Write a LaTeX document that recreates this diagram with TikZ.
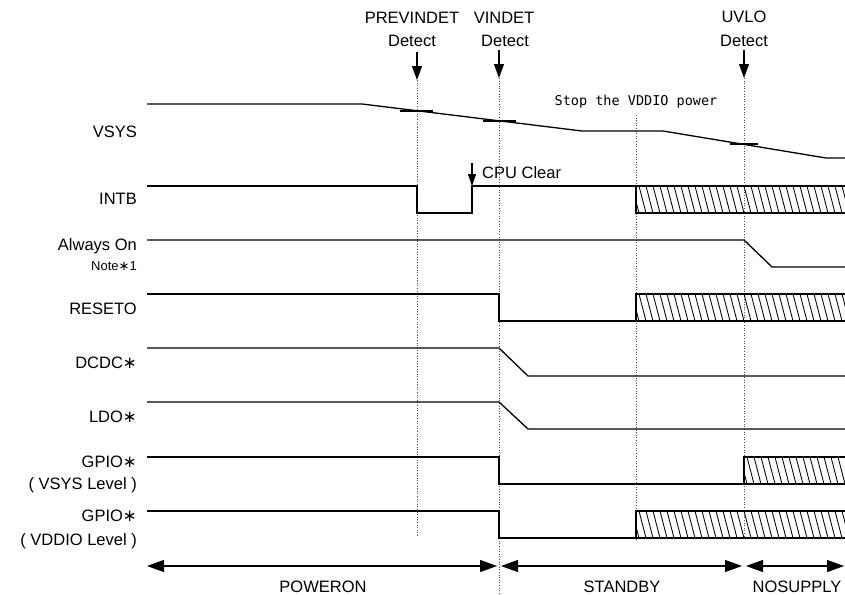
\documentclass[tikz,border=0pt]{standalone}
\usepackage{fontspec}
\setmainfont{Liberation Sans}
\newfontfamily\monofont{DejaVu Sans Mono}
\newfontfamily\symfont{DejaVu Sans}
\usetikzlibrary{arrows.meta}
\newcommand{\sigast}{{\symfont ∗}}
\begin{document}
\begin{tikzpicture}[x=1pt,y=-1pt,
  sig/.style={line width=1.3pt, line join=miter},
  guide/.style={dotted, line width=0.6pt, black!70},
  hatchline/.style={line width=0.85pt},
  lbl/.style={font=\fontsize{16.5}{18}\selectfont, anchor=base east, inner sep=0pt},
  small/.style={font=\fontsize{13}{14}\selectfont, anchor=base east, inner sep=0pt},
  toplbl/.style={font=\fontsize{16.5}{18}\selectfont, anchor=base, inner sep=0pt},
  phase/.style={font=\fontsize{16.5}{18}\selectfont, anchor=base, inner sep=0pt},
  monolbl/.style={font=\monofont\fontsize{13.5}{15}\selectfont, anchor=base, inner sep=0pt},
  detarrow/.style={line width=1.1pt, -{Triangle[length=14pt,width=10pt]}},
  cpuarrow/.style={line width=1.1pt, -{Triangle[length=12pt,width=8pt]}},
  phasearrow/.style={line width=1.1pt, {Triangle[length=17pt,width=12pt]}-{Triangle[length=17pt,width=12pt]}}
]
\useasboundingbox (0,0) rectangle (845,594);

% ---- labels on the left
\node[lbl] (lvsys) at (137,137) {VSYS};
\node[lbl] (lintb) at (137,204) {INTB};
\node[lbl] (laon) at (137,250) {Always On};
\node[small] (lnote) at (137,270) {Note\sigast1};
\node[lbl] (lreset) at (137,314) {RESETO};
\node[lbl] (ldcdc) at (137,368) {DCDC\sigast};
\node[lbl] (lldo) at (137,422) {LDO\sigast};
\node[lbl] (lg1) at (137,467) {GPIO\sigast};
\node[lbl] (lg1b) at (137,489) {( VSYS Level )};
\node[lbl] (lg2) at (137,521) {GPIO\sigast};
\node[lbl] (lg2b) at (137,545) {( VDDIO Level )};

% ---- event labels on top
\node[toplbl] (tprev) at (412,23.5) {PREVINDET};
\node[toplbl] (tprevd) at (412,47) {Detect};
\node[toplbl] (tvin) at (504,23.5) {VINDET};
\node[toplbl] (tvind) at (505,47) {Detect};
\node[toplbl] (tuvlo) at (744,23) {UVLO};
\node[toplbl] (tuvlod) at (744,47) {Detect};
\node[monolbl] (tstop) at (636,105) {Stop the VDDIO power};
\node[font=\fontsize{16.5}{18}\selectfont, anchor=base west, inner sep=0pt] (tcpu) at (482,178) {CPU Clear};

% ---- named coordinates for guides and arrows
\coordinate (p1) at (417,52);  \coordinate (p1e) at (417,80);
\coordinate (v1) at (499,50);  \coordinate (v1e) at (499,78);
\coordinate (u1) at (744,50);  \coordinate (u1e) at (744,78);
\coordinate (c1) at (472,163); \coordinate (c1e) at (472,186);
\coordinate (s1) at (636,115);

% ---- dotted guides
\draw[guide] (p1e) -- (417,537);
\draw[guide] (v1e) -- (499,594);
\draw[guide] (s1) -- (636,540);
\draw[guide] (u1e) -- (744,540);

% ---- event arrows
\draw[detarrow] (p1) -- (p1e);
\draw[detarrow] (v1) -- (v1e);
\draw[detarrow] (u1) -- (u1e);
\draw[cpuarrow] (c1) -- (c1e);

% ---- hatched regions
\foreach \xa/\xb/\ya/\yb in {636/845/186/213, 636/845/294/321, 744/845/457/484, 636/845/511/538}{
  \begin{scope}
    \clip (\xa,\ya) rectangle (\xb,\yb);
    \foreach \k in {0,...,32}{
      \draw[hatchline] (\xa-4+\k*7,\ya) -- (\xa+3+\k*7,\yb);
    }
  \end{scope}
  \draw[sig] (\xb+2,\ya) -- (\xa,\ya) -- (\xa,\yb) -- (\xb+2,\yb);
}

% ---- VSYS
\draw[sig] (147,104) -- (362,104) -- (582,131) -- (663,131) -- (826,158) -- (847,158);
\draw[sig] (400,111) -- (433,111);
\draw[sig] (483,121) -- (516,121);
\draw[sig] (730,144) -- (758,144);

% ---- INTB
\draw[sig] (147,186) -- (417,186) -- (417,213) -- (472,213) -- (472,186) -- (636,186);
% ---- Always On
\draw[sig] (147,240) -- (744,240) -- (772,267) -- (847,267);
% ---- RESETO
\draw[sig] (147,294) -- (499,294) -- (499,321) -- (636,321);
% ---- DCDC
\draw[sig] (147,348) -- (499,348) -- (528,376) -- (847,376);
% ---- LDO
\draw[sig] (147,402) -- (499,402) -- (528,429) -- (847,429);
% ---- GPIO VSYS level
\draw[sig] (147,457) -- (499,457) -- (499,484) -- (744,484);
% ---- GPIO VDDIO level
\draw[sig] (147,511) -- (499,511) -- (499,538) -- (636,538);

% ---- phase arrows
\coordinate (a0) at (147,566);
\coordinate (a1) at (497,566);
\coordinate (a2) at (501,566);
\coordinate (a3) at (742,566);
\coordinate (a4) at (746,566);
\coordinate (a5) at (844,566);
\draw[phasearrow] (a0) -- (a1);
\draw[phasearrow] (a2) -- (a3);
\draw[phasearrow] (a4) -- (a5);
\node[phase] (ppow) at (323,592) {POWERON};
\node[phase] (pstb) at (622,592) {STANDBY};
\node[phase] (pnos) at (797,592) {NOSUPPLY};
\end{tikzpicture}
\end{document}
